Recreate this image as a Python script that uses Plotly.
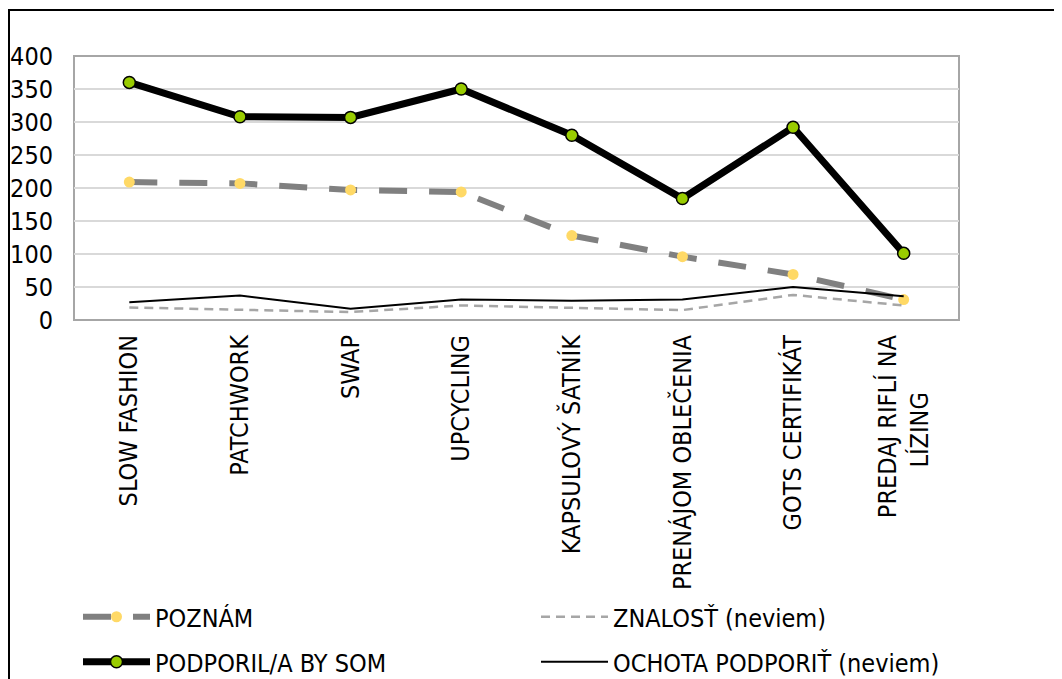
import plotly.graph_objects as go

categories = ["SLOW FASHION", "PATCHWORK", "SWAP", "UPCYCLING", "KAPSULOVÝ ŠATNÍK",
              "PRENÁJOM OBLEČENIA", "GOTS CERTIFIKÁT", "PREDAJ RIFLÍ NA LÍZING"]
tick_labels = ["SLOW FASHION", "PATCHWORK", "SWAP", "UPCYCLING", "KAPSULOVÝ ŠATNÍK",
               "PRENÁJOM OBLEČENIA", "GOTS CERTIFIKÁT",
               "PREDAJ RIFLÍ NA<br>LÍZING" + "\u00a0" * 8]
poznam = [209, 207, 197, 194, 128, 96, 69, 31]
znalost = [19, 16, 12, 22, 18, 15, 38, 22]
podporil = [360, 308, 307, 350, 280, 184, 292, 101]
ochota = [27, 37, 17, 31, 29, 31, 50, 36]
y_ticks = [0, 50, 100, 150, 200, 250, 300, 350, 400]

FONT = "DejaVu Sans Condensed, DejaVu Sans, Liberation Sans"
FS = 25

fig = go.Figure()
fig.add_trace(go.Scatter(
    x=categories, y=poznam, name="POZNÁM", mode="lines+markers",
    line=dict(color="#808080", width=6, dash="28px,22px"),
    marker=dict(color="#FFD966", size=11, line=dict(width=0)),
    legend="legend"))
fig.add_trace(go.Scatter(
    x=categories, y=znalost, name="ZNALOSŤ (neviem)", mode="lines",
    line=dict(color="#A6A6A6", width=2.5, dash="9px,6px"),
    legend="legend2"))
fig.add_trace(go.Scatter(
    x=categories, y=podporil, name="PODPORIL/A BY SOM", mode="lines+markers",
    line=dict(color="#000000", width=7),
    marker=dict(color="#99CC00", size=12, line=dict(color="#000000", width=1.5)),
    legend="legend3"))
fig.add_trace(go.Scatter(
    x=categories, y=ochota, name="OCHOTA PODPORIŤ (neviem)", mode="lines",
    line=dict(color="#000000", width=2),
    legend="legend4"))

# the page body adds an 8px offset, so the figure is laid out 8px smaller
OFF = 8
W, H = 1062 - OFF, 679 - OFF
L, T = 74 - OFF, 56 - OFF
R = W - (959 - OFF)
B = H - (320 - OFF)
ph = H - T - B
pw = W - L - R

def px(x):
    return (x - OFF - L) / pw

def py(y):
    return (H - B - (y - OFF)) / ph

def cy(y):
    return 1 - (y - OFF) / H

def cx(x):
    return (x - OFF) / W

leg_common = dict(orientation="h", xanchor="left", yanchor="middle",
                  xref="container", yref="container", itemwidth=67,
                  font=dict(family=FONT, size=FS, color="#000000"),
                  bgcolor="rgba(0,0,0,0)", itemclick=False)

fig.update_layout(
    width=W, height=H,
    margin=dict(l=L, r=R, t=T, b=B, autoexpand=False),
    paper_bgcolor="white", plot_bgcolor="white",
    font=dict(family=FONT, size=FS, color="#000000"),
    showlegend=True,
    legend=dict(x=cx(78), y=cy(617), **leg_common),
    legend2=dict(x=cx(536), y=cy(617), **leg_common),
    legend3=dict(x=cx(78), y=cy(662), **leg_common),
    legend4=dict(x=cx(536), y=cy(662), **leg_common),
    xaxis=dict(type="category", range=[-0.5, len(categories) - 0.5],
               tickvals=categories, ticktext=tick_labels,
               tickangle=-90, showgrid=False, showline=False, ticks="",
               ticklabelstandoff=9, automargin=False,
               tickfont=dict(family=FONT, size=FS, color="#000000")),
    yaxis=dict(range=[0, 400], tickvals=y_ticks, showgrid=True,
               gridcolor="#D9D9D9", gridwidth=1.5, zeroline=False,
               showline=False, ticks="", ticklabelstandoff=20, automargin=False,
               tickfont=dict(family=FONT, size=FS, color="#000000")),
    shapes=[
        dict(type="rect", xref="paper", yref="paper", x0=0, x1=1, y0=0, y1=1,
             line=dict(color="#A6A6A6", width=2), layer="below"),
        dict(type="line", xref="paper", yref="paper", x0=px(8), x1=px(1062),
             y0=py(10), y1=py(10), line=dict(color="#000000", width=2)),
        dict(type="line", xref="paper", yref="paper", x0=px(9), x1=px(9),
             y0=py(10), y1=py(700), line=dict(color="#000000", width=2)),
    ],
)

fig.write_html("out.html")
